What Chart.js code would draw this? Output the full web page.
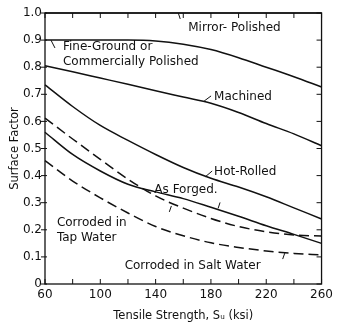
<!DOCTYPE html>
<html>
<head>
<meta charset="utf-8">
<script src="https://cdn.jsdelivr.net/npm/chart.js@4.4.1/dist/chart.umd.min.js"></script>
<style>
  html, body { margin: 0; padding: 0; background: #fff; }
  canvas { display: block; }
</style>
</head>
<body>
<canvas id="chart" width="337" height="323"></canvas>
<script>
// Значения
const strengthKsi = [60, 80, 100, 120, 140, 160, 180, 200, 220, 240, 260];
const mirrorPolished = [1.0, 1.0, 1.0, 1.0, 1.0, 1.0, 1.0, 1.0, 1.0, 1.0, 1.0];
const fineGround = [0.90, 0.90, 0.90, 0.90, 0.897, 0.885, 0.865, 0.835, 0.80, 0.765, 0.727];
const machined = [0.805, 0.783, 0.76, 0.737, 0.713, 0.69, 0.667, 0.633, 0.592, 0.554, 0.51];
const hotRolled = [0.735, 0.655, 0.585, 0.53, 0.478, 0.43, 0.39, 0.358, 0.322, 0.281, 0.24];
const asForged = [0.56, 0.478, 0.417, 0.368, 0.34, 0.315, 0.283, 0.25, 0.215, 0.183, 0.15];
const tapWater = [0.612, 0.535, 0.46, 0.387, 0.325, 0.28, 0.242, 0.212, 0.193, 0.181, 0.177];
const saltWater = [0.455, 0.38, 0.318, 0.262, 0.212, 0.178, 0.152, 0.135, 0.122, 0.113, 0.107];

// Подписи кривых (в координатах данных)
const curveLabels = [
  { text: 'Mirror- Polished', x: 163.6, y: 0.945 },
  { text: 'Fine-Ground or', x: 73, y: 0.875 },
  { text: 'Commercially Polished', x: 73, y: 0.82 },
  { text: 'Machined', x: 182.3, y: 0.69 },
  { text: 'Hot-Rolled', x: 182.3, y: 0.413 },
  { text: 'As Forged.', x: 139.1, y: 0.347 },
  { text: 'Corroded in', x: 68.6, y: 0.225 },
  { text: 'Tap Water', x: 68.6, y: 0.17 },
  { text: 'Corroded in Salt Water', x: 117.6, y: 0.066 }
];

// Выноски от подписей к кривым
const leaders = [
  [157.8, 0.978, 156.4, 1.0],
  [67.2, 0.871, 64.3, 0.9],
  [175.1, 0.675, 180.1, 0.694],
  [175.8, 0.395, 180.9, 0.417],
  [185.2, 0.279, 186.6, 0.301],
  [149.9, 0.266, 151.4, 0.288],
  [231.9, 0.092, 233.4, 0.114]
];

const FONT = '"DejaVu Sans", sans-serif';

function toPoints(values) {
  return strengthKsi.map((x, i) => ({ x, y: values[i] }));
}

function makeSet(values, dashed) {
  return {
    data: toPoints(values),
    borderColor: '#111',
    borderWidth: 1.5,
    borderDash: dashed ? [10, 5] : [],
    pointRadius: 0,
    tension: 0.4,
    cubicInterpolationMode: 'monotone',
    fill: false,
    clip: false
  };
}

// Рамка, засечки, подписи и выноски
const decorPlugin = {
  id: 'decor',
  afterDraw(chart) {
    const ctx = chart.ctx;
    const area = chart.chartArea;
    const xs = chart.scales.x;
    const ys = chart.scales.y;
    ctx.save();
    ctx.strokeStyle = '#111';
    ctx.lineWidth = 1.3;
    ctx.strokeRect(area.left, area.top, area.right - area.left, area.bottom - area.top);

    ctx.lineWidth = 1;
    ctx.beginPath();
    xs.ticks.forEach(t => {
      const px = xs.getPixelForValue(t.value);
      ctx.moveTo(px, area.bottom);
      ctx.lineTo(px, area.bottom - 5);
      ctx.moveTo(px, area.top);
      ctx.lineTo(px, area.top + 5);
    });
    ys.ticks.forEach(t => {
      const py = ys.getPixelForValue(t.value);
      ctx.moveTo(area.left - 4, py);
      ctx.lineTo(area.left + 2, py);
      ctx.moveTo(area.right, py);
      ctx.lineTo(area.right - 5, py);
    });
    ctx.stroke();

    ctx.beginPath();
    leaders.forEach(l => {
      ctx.moveTo(xs.getPixelForValue(l[0]), ys.getPixelForValue(l[1]));
      ctx.lineTo(xs.getPixelForValue(l[2]), ys.getPixelForValue(l[3]));
    });
    ctx.stroke();

    ctx.fillStyle = '#111';
    ctx.font = '12px ' + FONT;
    ctx.textAlign = 'left';
    ctx.textBaseline = 'middle';
    curveLabels.forEach(l => {
      ctx.fillText(l.text, xs.getPixelForValue(l.x), ys.getPixelForValue(l.y));
    });
    ctx.restore();
  }
};

new Chart(document.getElementById('chart'), {
  type: 'line',
  data: {
    datasets: [
      makeSet(mirrorPolished, false),
      makeSet(fineGround, false),
      makeSet(machined, false),
      makeSet(hotRolled, false),
      makeSet(asForged, false),
      makeSet(tapWater, true),
      makeSet(saltWater, true)
    ]
  },
  options: {
    responsive: false,
    animation: false,
    layout: { padding: { top: 13, right: 14, left: 0, bottom: 0 } },
    plugins: { legend: { display: false }, tooltip: { enabled: false } },
    scales: {
      x: {
        type: 'linear',
        min: 60,
        max: 260,
        grid: { display: false, drawTicks: false },
        border: { display: false },
        ticks: {
          stepSize: 20,
          padding: 4,
          maxRotation: 0,
          color: '#111',
          font: { family: FONT, size: 12 },
          callback: v => ((v - 60) % 40 === 0 ? String(v) : '')
        },
        title: {
          display: true,
          text: 'Tensile Strength, Sᵤ (ksi)',
          color: '#111',
          font: { family: FONT, size: 11.5 },
          padding: { top: 4, bottom: 0 }
        },
        afterFit: s => { s.height = 39; }
      },
      y: {
        min: 0,
        max: 1,
        grid: { display: false, drawTicks: false },
        border: { display: false },
        ticks: {
          stepSize: 0.1,
          padding: 3,
          color: '#111',
          font: { family: FONT, size: 12 },
          callback: v => (Math.abs(v) < 1e-9 ? '0' : v.toFixed(1))
        },
        title: {
          display: true,
          text: 'Surface Factor',
          color: '#111',
          font: { family: FONT, size: 11.5 },
          padding: { top: 8, bottom: 0 }
        },
        afterFit: s => { s.width = 45; }
      }
    }
  },
  plugins: [decorPlugin]
});
</script>
</body>
</html>
